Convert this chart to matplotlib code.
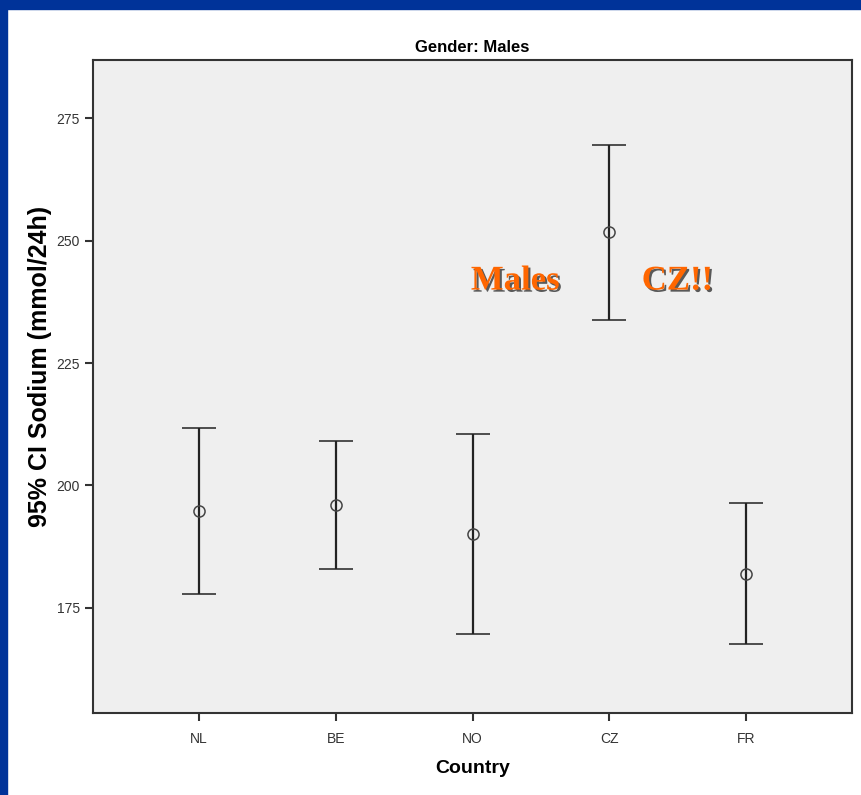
import matplotlib
matplotlib.use("Agg")
import matplotlib.pyplot as plt
import matplotlib.patheffects as pe
from matplotlib.patches import Rectangle
import numpy as np

# 95% CI of 24h sodium excretion, males
countries = ["NL", "BE", "NO", "CZ", "FR"]
means = [194.8, 195.9, 190.0, 251.7, 181.8]
lower = [177.9, 182.9, 169.7, 233.8, 167.6]
upper = [211.7, 209.0, 210.4, 269.6, 196.3]

plt.rcParams['font.family'] = ['Liberation Sans', 'DejaVu Sans']

fig = plt.figure(figsize=(8.61, 7.95), dpi=100)
fig.patch.set_facecolor("white")

# slide frame (blue band top and left)
fig.add_artist(Rectangle((0, 1 - 9 / 795), 1, 9 / 795, transform=fig.transFigure,
                         color="#003399", zorder=0))
fig.add_artist(Rectangle((0, 0), 7 / 861, 1, transform=fig.transFigure,
                         color="#003399", zorder=0))

ax = fig.add_axes([93 / 861, 1 - 713 / 795, (852 - 93) / 861, (713 - 60) / 795])
ax.set_facecolor("#efefef")

x = np.arange(len(countries))
m = np.array(means)
err = [m - np.array(lower), np.array(upper) - m]

ax.errorbar(x, m, yerr=err, fmt="o", color="#222222", ecolor="#222222",
            elinewidth=1.6, capsize=12, capthick=2.2, markersize=8,
            markerfacecolor="none", markeredgecolor="#444444", markeredgewidth=1.1)

ax.set_xlim(-0.777, 4.777)
ax.set_ylim(153.5, 286.9)
ax.set_xticks(x)
ax.set_xticklabels(countries)
ax.set_yticks([175, 200, 225, 250, 275])

for s in ax.spines.values():
    s.set_color("#333333")
    s.set_linewidth(1.5)
ax.tick_params(axis="both", length=6, width=1.5, color="#333333",
               labelsize=10, labelcolor="#333333")
ax.tick_params(axis="x", pad=8)

ax.set_title("Gender: Males", fontsize=12, fontweight="bold", pad=6)
ax.set_xlabel("Country", fontsize=14, fontweight="bold", labelpad=10)
ax.set_ylabel("95% CI Sodium (mmol/24h)", fontsize=18, fontweight="bold")
ax.yaxis.set_label_coords(-0.054, 0.53)

shadow = [pe.SimplePatchShadow(offset=(1.5, -1.5), shadow_rgbFace="#333333", alpha=0.8),
          pe.Normal()]
ax.text(2.313, 240, "Males", fontsize=25, fontweight="bold", color="#ff6600",
        family=['Liberation Serif', 'DejaVu Serif'], ha="center", va="baseline",
        path_effects=shadow)
ax.text(3.50, 240, "CZ!!", fontsize=25, fontweight="bold", color="#ff6600",
        family=['Liberation Serif', 'DejaVu Serif'], ha="center", va="baseline",
        path_effects=shadow)

fig.savefig("out.png", dpi=100)
